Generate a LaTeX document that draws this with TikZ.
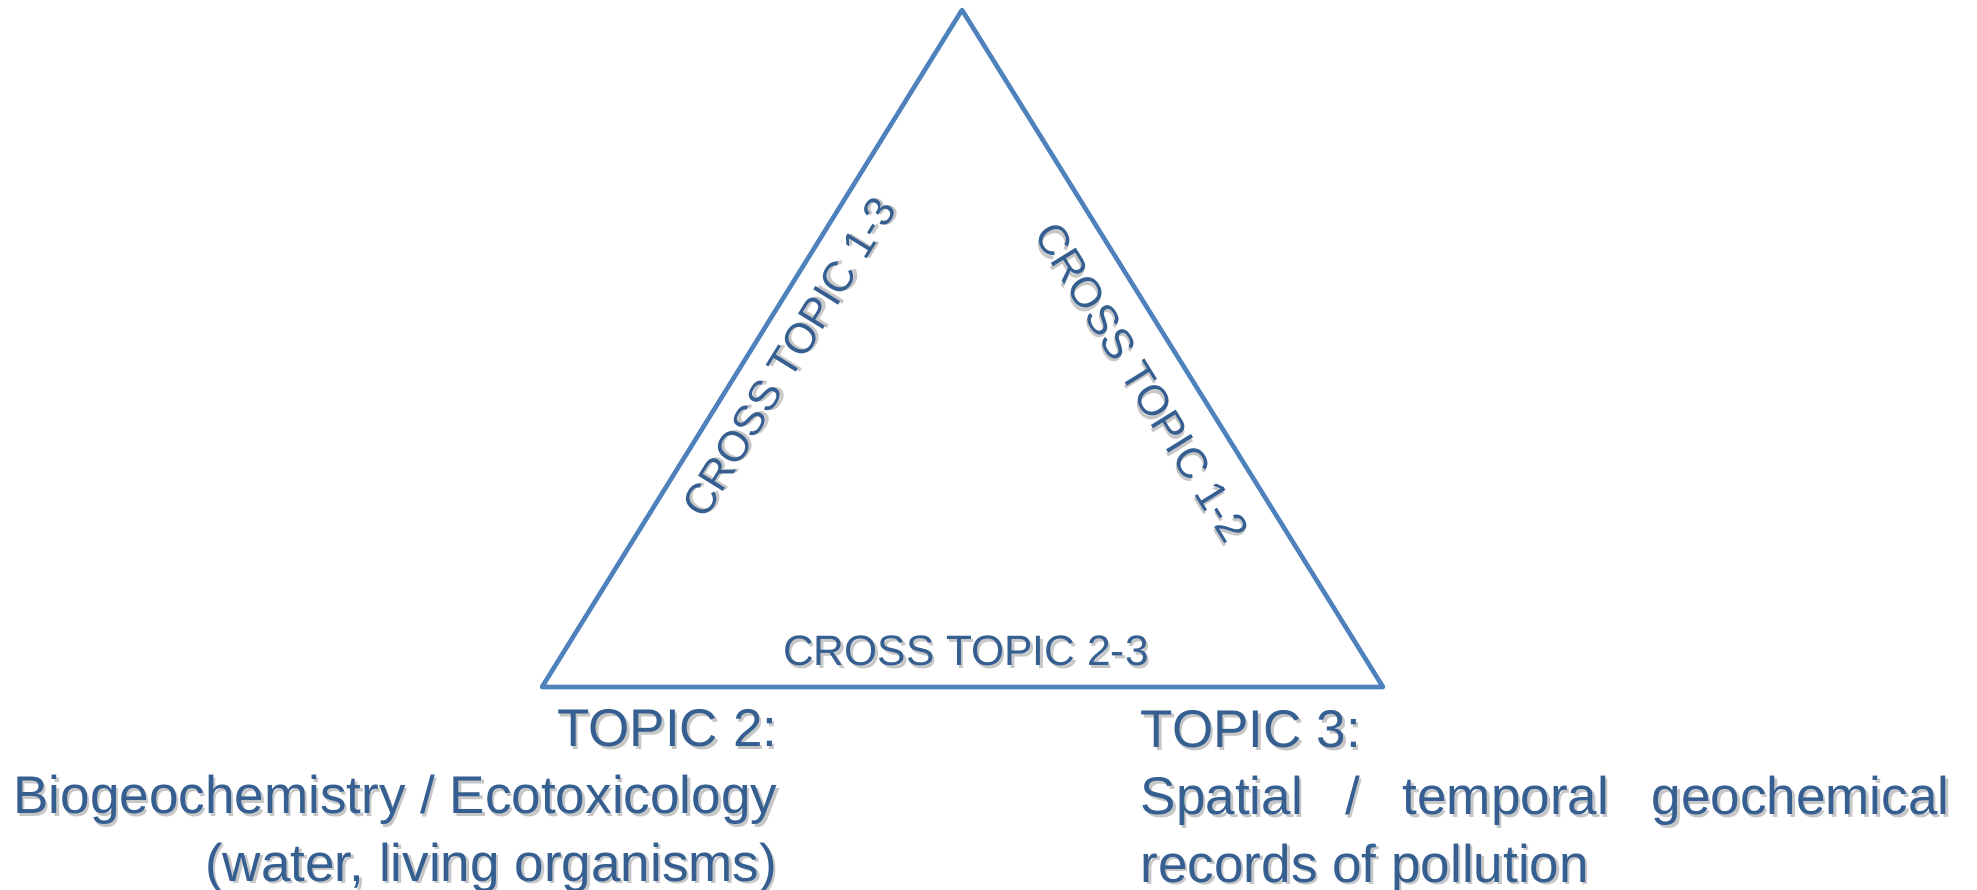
\documentclass[tikz,border=0pt]{standalone}
\usepackage{fontspec}
\setmainfont{Liberation Sans}
\usetikzlibrary{positioning}
\definecolor{edgeblue}{RGB}{79,129,189}
\definecolor{topicblue}{RGB}{54,95,145}
% text with a soft grey drop shadow
\newcommand\shd[1]{\leavevmode\rlap{\kern.7pt\raisebox{-.7pt}{\textcolor{black!22}{#1}}}#1}

\begin{document}
\begin{tikzpicture}[big/.style={text=topicblue,inner sep=0pt,font=\fontsize{15.1}{19.1}\selectfont},
small/.style={text=topicblue,inner sep=0pt,font=\fontsize{12.1}{14}\selectfont}]
\useasboundingbox(0,0)rectangle(19.77,8.90);
\coordinate(t1)at(9.62,8.80);
\coordinate(t2)at(5.42,2.03);
\coordinate(t3)at(13.83,2.03);
\draw[edgeblue,line width=1.3pt,line join=round](t1)--(t2)--(t3)--cycle;

\node[small,rotate=58.2](c13)at(7.90,5.32){\shd{CROSS TOPIC 1-3}};
\node[small,rotate=-58.2](c12)at(11.41,5.07){\shd{CROSS TOPIC 1-2}};
\node[small,anchor=base](c23)at(9.66,2.24){\shd{CROSS TOPIC 2-3}};

\node[big,align=right,anchor=north east](topic2)at(7.78,1.81){\shd{TOPIC 2:}\\
\shd{Biogeochemistry / Ecotoxicology}\\\shd{(water, living organisms)}};
\node[big,align=left,anchor=north west](topic3)at(11.40,1.80){\shd{TOPIC 3:}\\
\shd{\makebox[8.09cm][s]{Spatial / temporal geochemical}}\\\shd{records of pollution}};
\end{tikzpicture}
\end{document}
